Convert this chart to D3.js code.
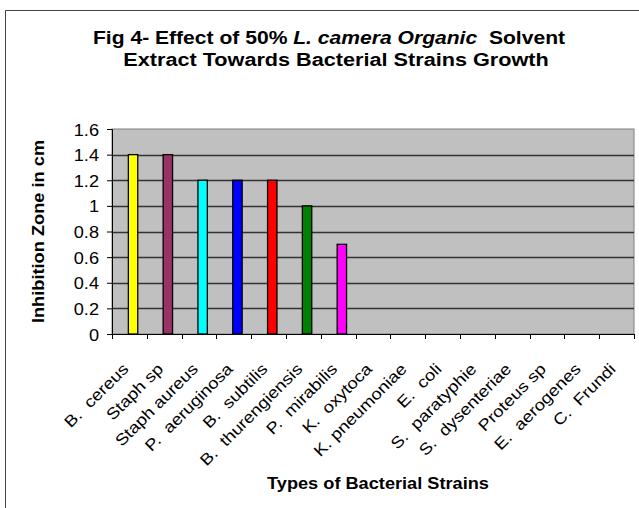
<!DOCTYPE html>
<html><head><meta charset="utf-8">
<script src="https://cdn.jsdelivr.net/npm/d3@7"></script>
<style>body{margin:0;background:#fff;} text{font-family:"Liberation Sans",Arial,sans-serif;}</style>
</head><body><svg id="c" width="639" height="508"></svg>
<script>
const categories = ["B.  cereus","Staph sp","Staph aureus","P.  aeruginosa","B.  subtilis","B.  thurengiensis","P.  mirabilis","K.  oxytoca","K. pneumoniae","E.  coli","S.  paratyphie","S.  dysenteriae","Proteus sp","E.  aerogenes","C.  Frundi"];
const values = [1.4,1.4,1.2,1.2,1.2,1.0,0.7,0,0,0,0,0,0,0,0];
const barColors = ["#FFFF00","#993366","#00FFFF","#0000FF","#FF0000","#008000","#FF00FF","#FFFF00","#FFFF00","#FFFF00","#FFFF00","#FFFF00","#FFFF00","#FFFF00","#FFFF00"];
const yTicks = [0,0.2,0.4,0.6,0.8,1,1.2,1.4,1.6];

const svg = d3.select("#c");
const L=112, R=634, T=129, B=334;
const x = d3.scaleBand().domain(categories).range([L,R]).padding(0);
const y = d3.scaleLinear().domain([0,1.6]).range([B,T]);

// outer border
svg.append("path").attr("d","M5.5,508 V10.5 H639").attr("fill","none").attr("stroke","#444").attr("stroke-width",1);

// plot bg
svg.append("rect").attr("x",L).attr("y",T).attr("width",R-L).attr("height",B-T).attr("fill","#C0C0C0").attr("stroke","#808080");

// gridlines
svg.append("g").selectAll("line").data(yTicks.slice(1,-1)).join("line")
  .attr("x1",L).attr("x2",R).attr("y1",d=>Math.round(y(d))+0.5).attr("y2",d=>Math.round(y(d))+0.5)
  .attr("stroke","#333").attr("stroke-width",1.4);

// bars
const bw = x.bandwidth();
svg.append("g").selectAll("rect").data(values.map((v,i)=>({c:categories[i],v,col:barColors[i]})).filter(d=>d.v>0)).join("rect")
  .attr("x",d=>x(d.c)+bw*0.47).attr("width",bw*0.27)
  .attr("y",d=>y(d.v)).attr("height",d=>B-y(d.v))
  .attr("fill",d=>d.col).attr("stroke","#000").attr("stroke-width",1.3);

// y axis
const ya = svg.append("g").attr("transform",`translate(${L},0)`)
  .call(d3.axisLeft(y).tickValues(yTicks).tickFormat(d=>String(d)).tickSize(5).tickPadding(0));
ya.select(".domain").attr("stroke","#000");
ya.selectAll(".tick line").attr("stroke","#000");
ya.selectAll(".tick text").attr("x",null).attr("dy",null)
  .attr("transform","translate(-13,6) scale(1.1,1)")
  .attr("font-size",16.5).attr("fill","#000").attr("font-family","Liberation Sans, Arial, sans-serif");

// x axis
const xa = svg.append("g").attr("transform",`translate(0,${B})`);
xa.append("line").attr("x1",L).attr("x2",R).attr("y1",0.5).attr("y2",0.5).attr("stroke","#000");
xa.selectAll(".tk").data(categories.concat(["__end"])).join("line")
  .attr("x1",(d,i)=>Math.round(L+i*bw)+0.5).attr("x2",(d,i)=>Math.round(L+i*bw)+0.5)
  .attr("y1",0).attr("y2",5).attr("stroke","#000");
xa.selectAll(".lb").data(categories).join("text")
  .attr("transform",d=>`translate(${x(d)+bw*0.5},${36}) rotate(-45) scale(1.15,1)`)
  .attr("text-anchor","end").attr("font-size",16).attr("fill","#000")
  .style("white-space","pre").text(d=>d);

// titles
const t = svg.append("text").attr("transform","translate(329,44) scale(1.11,1)").attr("text-anchor","middle").attr("font-size",19).attr("font-weight","bold").style("white-space","pre");
t.append("tspan").text("Fig 4- Effect of 50% ");
t.append("tspan").attr("font-style","italic").text("L. camera Organic");
t.append("tspan").text("  Solvent");
svg.append("text").attr("transform","translate(336,66) scale(1.14,1)").attr("text-anchor","middle").attr("font-size",19).attr("font-weight","bold").text("Extract Towards Bacterial Strains Growth");

svg.append("text").attr("transform","translate(44,231.5) rotate(-90) scale(1.14,1)").attr("text-anchor","middle").attr("font-size",16).attr("font-weight","bold").text("Inhibition Zone in cm");
svg.append("text").attr("transform","translate(378,489) scale(1.07,1)").attr("text-anchor","middle").attr("font-size",17).attr("font-weight","bold").text("Types of Bacterial Strains");
</script></body></html>
